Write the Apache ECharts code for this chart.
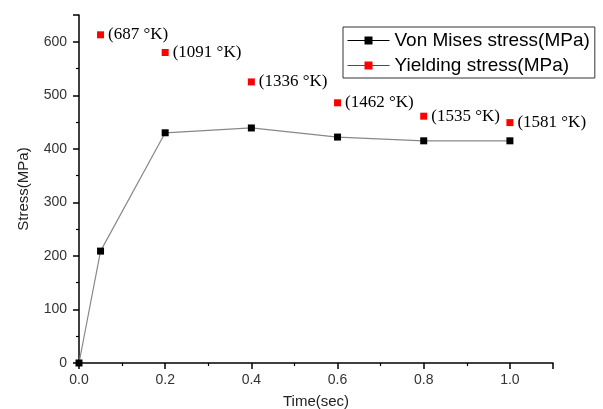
<!DOCTYPE html>
<html><head><meta charset="utf-8">
<script src="https://cdn.jsdelivr.net/npm/echarts@6/dist/echarts.min.js"></script>
<style>html,body{margin:0;padding:0;background:#fff}#c{width:603px;height:409px}</style>
</head><body><div id="c"></div>
<script>
const timeVM = [0, 0.05, 0.2, 0.4, 0.6, 0.8, 1.0];
const vonMises = [0, 209, 430, 439, 422, 415, 415];
const timeY = [0.05, 0.2, 0.4, 0.6, 0.8, 1.0];
const yielding = [613, 580, 525, 486, 461, 449];
const tempLabels = ['(687 °K)', '(1091 °K)', '(1336 °K)', '(1462 °K)', '(1535 °K)', '(1581 °K)'];

const chart = echarts.init(document.getElementById('c'));
const axisCommon = {
  axisLine: {show: true, onZero: false, lineStyle: {color: '#000', width: 1.5}},
  axisTick: {show: true, inside: false, length: 6, lineStyle: {color: '#000', width: 1.5}},
  minorTick: {show: true, splitNumber: 2, length: 3, lineStyle: {color: '#000', width: 1.2}},
  splitLine: {show: false},
  axisLabel: {color: '#333', fontFamily: 'Arial, Liberation Sans', fontSize: 14},
  nameTextStyle: {color: '#222', fontFamily: 'Arial, Liberation Sans', fontSize: 15}
};
chart.setOption({
  animation: false,
  grid: {left: 79, right: 50, top: 15, bottom: 46, outerBoundsMode: 'none', containLabel: false},
  legend: {
    orient: 'vertical', left: 343, top: 27, itemWidth: 42, itemHeight: 10, itemGap: 4,
    borderColor: '#333', borderWidth: 1, padding: [3, 5, 2, 4],
    textStyle: {fontFamily: 'Arial, Liberation Sans', fontSize: 19, lineHeight: 21, color: '#000'},
    data: [
      {name: 'Von Mises stress(MPa)', lineStyle: {color: '#000', width: 1}},
      {name: 'Yielding stress(MPa)', lineStyle: {color: '#f00', width: 1, opacity: 1}}
    ]
  },
  xAxis: Object.assign({}, axisCommon, {
    type: 'value', min: 0, max: 1.1, interval: 0.2,
    name: 'Time(sec)', nameLocation: 'middle', nameGap: 31,
    axisLabel: Object.assign({}, axisCommon.axisLabel, {formatter: v => v.toFixed(1), showMaxLabel: false, margin: 10})
  }),
  yAxis: Object.assign({}, axisCommon, {
    type: 'value', min: 0, max: 650, interval: 100,
    name: 'Stress(MPa)', nameLocation: 'middle', nameGap: 48,
    axisLabel: Object.assign({}, axisCommon.axisLabel, {showMaxLabel: false, margin: 12})
  }),
  series: [
    {
      name: 'Von Mises stress(MPa)', type: 'line',
      data: timeVM.map((t, i) => [t, vonMises[i]]),
      symbol: 'rect', symbolSize: 7, showAllSymbol: true,
      lineStyle: {color: '#888', width: 1.2},
      itemStyle: {color: '#000'}
    },
    {
      name: 'Yielding stress(MPa)', type: 'line',
      data: timeY.map((t, i) => [t, yielding[i]]),
      symbol: 'rect', symbolSize: 7,
      lineStyle: {width: 1, color: '#f00', opacity: 0},
      itemStyle: {color: '#f00'},
      label: {
        show: true, position: 'right', distance: 4,
        formatter: p => tempLabels[p.dataIndex],
        fontFamily: 'Times New Roman, Liberation Serif, serif', fontSize: 17, color: '#000'
      }
    }
  ]
});
</script></body></html>
